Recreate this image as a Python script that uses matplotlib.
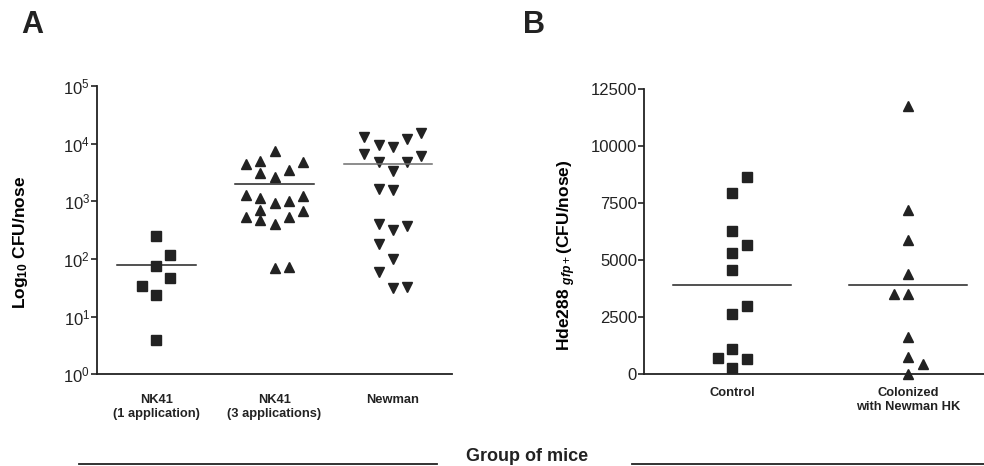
import numpy as np
import matplotlib
matplotlib.use("Agg")
import matplotlib.pyplot as plt
from matplotlib.lines import Line2D

plt.rcParams['font.family'] = ['Liberation Sans', 'DejaVu Sans']
plt.rcParams['mathtext.fontset'] = 'custom'
plt.rcParams['mathtext.rm'] = 'Liberation Sans'
plt.rcParams['mathtext.bf'] = 'Liberation Sans:bold'
plt.rcParams['mathtext.it'] = 'Liberation Sans:italic:bold'

# Panel A: CFU per nose (log scale), slot = horizontal position within the group
groups_a = ['NK41\n(1 application)', 'NK41\n(3 applications)', 'Newman']
nk41_1 = [252, 117, 75, 47, 34, 24, 3.9]
nk41_1_slot = [0, 1, 0, 1, -1, 0, 0]
nk41_3 = [7500, 4410, 5030, 4720, 3040, 3470, 2660,
          1265, 1150, 942, 1008, 1245, 703, 684, 526, 472, 526, 403, 71, 73]
nk41_3_slot = [0, -2, -1, 2, -1, 1, 0,
               -2, -1, 0, 1, 2, -1, 2, -2, -1, 1, 0, 0, 1]
newman = [12800, 9420, 8590, 11820, 15400, 6580, 4840, 4840, 6070, 3380,
          1608, 1563, 403, 317, 372, 181, 98, 60, 32, 33]
newman_slot = [-2, -1, 0, 1, 2, -2, -1, 1, 2, 0,
               -1, 0, -1, 0, 1, -1, 0, -1, 0, 1]

# Panel B: Hde288 gfp+ CFU per nose
groups_b = ['Control', 'Colonized\nwith Newman HK']
control = [8666, 7965, 6285, 5671, 5335, 4555, 2981, 2659, 1115, 705, 661, 264]
control_slot = [1, 0, 0, 1, 0, 0, 1, 0, 0, -1, 1, 0]
colonized = [11767, 7206, 5890, 4378, 3527, 3527, 1631, 776, 441, 30]
colonized_slot = [0, 0, 0, 0, -1, 0, 0, 0, 1, 0]

ink = '#222222'
ms = 7.4

fig = plt.figure(figsize=(9.84, 4.66), dpi=100)

# ---- panel A ----
axA = fig.add_axes([97/984, 1 - 374.3/466, 355/984, 288.3/466])
step_a = 0.12
markers_a = ['s', '^', 'v']
data_a = [(nk41_1, nk41_1_slot), (nk41_3, nk41_3_slot), (newman, newman_slot)]
line_half = [0.333, 0.333, 0.375]
line_col = [ink, ink, '#6e6e6e']
for i, (vals, slots) in enumerate(data_a):
    x = i + 1 + np.array(slots) * step_a
    axA.plot(x, vals, linestyle='none', marker=markers_a[i], ms=ms,
             color=ink, clip_on=False)
    m = np.mean(vals)
    xc = i + 1 - (0.04 if i == 2 else 0)
    axA.plot([xc - line_half[i], xc + line_half[i]], [m, m], color=line_col[i], lw=1.1)
axA.set_yscale('log')
axA.set_ylim(1, 1e5)
axA.set_xlim(0.5, 3.5)
axA.set_yticks([1, 10, 100, 1e3, 1e4, 1e5])
axA.yaxis.set_minor_locator(matplotlib.ticker.NullLocator())
axA.set_xticks([1, 2, 3])
axA.set_xticklabels(groups_a, fontsize=9.3, fontweight='bold', linespacing=1.15)
axA.set_ylabel(r'Log$_{\mathbf{10}}$ CFU/nose', fontsize=12.5, fontweight='bold')
axA.yaxis.set_label_coords(-0.19, 0.457)

# ---- panel B ----
axB = fig.add_axes([644/984, 1 - 374.3/466, 340/984, 285/466])
step_b = 0.082
data_b = [(control, control_slot, 's'), (colonized, colonized_slot, '^')]
for i, (vals, slots, mk) in enumerate(data_b):
    x = i + 1 + np.array(slots) * step_b
    axB.plot(x, vals, linestyle='none', marker=mk, ms=ms, color=ink, clip_on=False)
    m = np.mean(vals)
    axB.plot([i + 1 - 0.335, i + 1 + 0.335], [m, m], color=ink, lw=1.1)
axB.set_ylim(0, 12500)
axB.set_xlim(0.5, 2.43)
axB.set_yticks(np.arange(0, 12501, 2500))
axB.set_xticks([1, 2])
axB.set_xticklabels(groups_b, fontsize=9.3, fontweight='bold', linespacing=1.15)
axB.set_ylabel(r'Hde288 $_{\mathit{gfp+}}$(CFU/nose)', fontsize=12.5, fontweight='bold')
axB.yaxis.set_label_coords(-0.195, 0.418)

for ax, pad in ((axA, 14.5), (axB, 9.5)):
    for s in ('top', 'right'):
        ax.spines[s].set_visible(False)
    for s in ('left', 'bottom'):
        ax.spines[s].set_linewidth(1.3)
        ax.spines[s].set_color(ink)
    ax.tick_params(axis='y', direction='out', length=4, width=1.2, pad=1,
                   labelsize=12, colors=ink)
    ax.tick_params(axis='x', length=0, pad=pad, colors=ink)

# panel letters and shared x label
fig.text(21/984, 1 - 33/466, 'A', fontsize=22, fontweight='bold', va='baseline', ha='left', color=ink)
fig.text(523/984, 1 - 33/466, 'B', fontsize=22, fontweight='bold', va='baseline', ha='left', color=ink)
fig.text(527/984, 1 - 461/466, 'Group of mice', fontsize=13, fontweight='bold',
         ha='center', va='baseline', color=ink)
yl = 1 - 464.3/466
fig.add_artist(Line2D([79/984, 437/984], [yl, yl], color=ink, lw=1.3))
fig.add_artist(Line2D([632/984, 1.0], [yl, yl], color=ink, lw=1.3))

fig.savefig('out.png', dpi=100)
